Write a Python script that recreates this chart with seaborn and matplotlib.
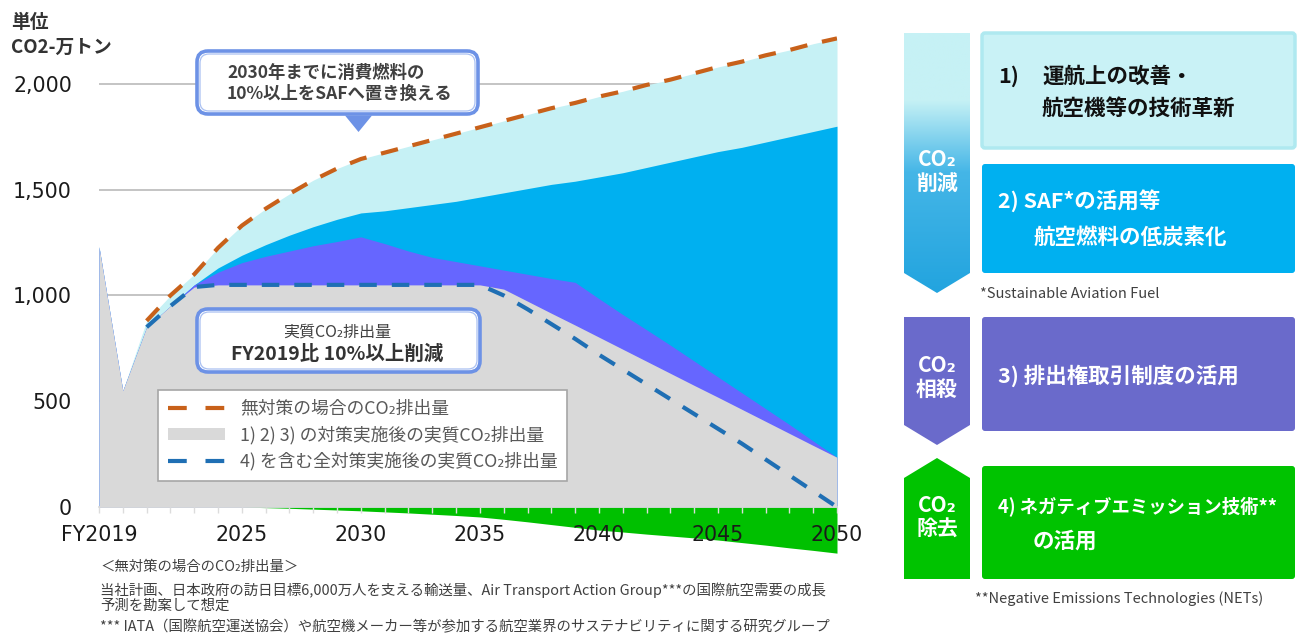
import numpy as np
import pandas as pd
import matplotlib
matplotlib.use("Agg")
import matplotlib.pyplot as plt
import seaborn as sns
from matplotlib.patches import FancyBboxPatch, Polygon, Patch
from matplotlib.lines import Line2D
from matplotlib.colors import to_rgb

# ---------------- data ----------------
years = list(range(2019, 2051))
no_action = [1230, 550, 880, 1000, 1100, 1225, 1330, 1410, 1480, 1545, 1600, 1645,
             1675, 1705, 1735, 1765, 1795, 1825, 1855, 1885, 1910, 1940,
             1965, 1995, 2020, 2050, 2080, 2105, 2135, 2160, 2190, 2215]
after_measure1 = [1230, 550, 850, 950, 1050, 1130, 1190, 1240, 1285, 1325, 1360, 1390,
                  1400, 1415, 1430, 1445, 1465, 1485, 1505, 1525, 1540, 1560,
                  1580, 1605, 1630, 1655, 1680, 1700, 1725, 1750, 1775, 1800]
after_measure2 = [1230, 550, 850, 950, 1050, 1110, 1155, 1185, 1210, 1235, 1255, 1277,
                  1245, 1210, 1180, 1160, 1140, 1120, 1100, 1080, 1062, 985,
                  910, 838, 765, 690, 615, 540, 465, 390, 312, 235]
after_measure3 = [1230, 550, 850, 950, 1040, 1050, 1050, 1050, 1050, 1050, 1050, 1050,
                  1050, 1050, 1050, 1050, 1050, 1030, 973, 916, 860, 803,
                  746, 689, 632, 575, 519, 462, 405, 348, 291, 235]
net_all = [np.nan, np.nan, 850, 950, 1040, 1050, 1050, 1050, 1050, 1050, 1050, 1050,
           1050, 1050, 1050, 1050, 1050, 1000, 935, 865, 795, 720,
           650, 580, 510, 440, 370, 300, 225, 150, 75, 0]
removal = [0, 0, 0, 0, 0, 0, 0, -3, -6, -10, -14, -18,
           -23, -28, -34, -40, -47, -58, -70, -83, -96, -109,
           -118, -128, -137, -146, -156, -168, -180, -193, -205, -218]
x_tick_years = [2019, 2025, 2030, 2035, 2040, 2045, 2050]
x_tick_labels = ["FY2019", "2025", "2030", "2035", "2040", "2045", "2050"]
y_ticks = [0, 500, 1000, 1500, 2000]
y_tick_labels = ["0", "500", "1,000", "1,500", "2,000"]
legend_labels = ["無対策の場合のCO₂排出量",
                 "1) 2) 3) の対策実施後の実質CO₂排出量",
                 "4) を含む全対策実施後の実質CO₂排出量"]

# colours
C_CYAN = "#c6f1f5"
C_BLUE = "#00b0f0"
C_PURPLE = "#6666ff"
C_GRAY = "#d9d9d9"
C_GREEN = "#00c000"
C_ORANGE = "#c8611a"
C_DBLUE = "#1f6fb4"
C_CALL = "#6d92e6"

sns.set_theme(style="white")
plt.rcParams["font.family"] = ["Noto Sans CJK JP", "DejaVu Sans"]

W, H = 1301, 634
fig = plt.figure(figsize=(W / 100, H / 100), dpi=100)
ax = fig.add_axes([99 / W, 1 - 556 / H, (837 - 99) / W, (556 - 31) / H])
ax.set_xlim(2019, 2050)
ax.set_ylim(-231.5, 2250)

# horizontal gridlines below the areas
for yv in y_ticks[1:]:
    ax.axhline(yv, color="#bfbfbf", lw=1.3, zorder=0.5)

# stacked areas painted as layers (no seams)
ax.fill_between(years, 0, no_action, color=C_CYAN, lw=0, zorder=1)
ax.fill_between(years, 0, after_measure1, color=C_BLUE, lw=0, zorder=1.1)
ax.fill_between(years, 0, after_measure2, color=C_PURPLE, lw=0, zorder=1.2)
ax.fill_between(years, 0, after_measure3, color=C_GRAY, lw=0, zorder=1.3)
ax.fill_between(years, removal, 0, color=C_GREEN, lw=0, zorder=1.4)

df_no = pd.DataFrame({"year": years[2:], "value": no_action[2:]})
df_net = pd.DataFrame({"year": years, "value": net_all}).dropna()
sns.lineplot(data=df_no, x="year", y="value", ax=ax, color=C_ORANGE, lw=3.0,
             linestyle=(0, (4.2, 3.6)), zorder=4)
sns.lineplot(data=df_net, x="year", y="value", ax=ax, color=C_DBLUE, lw=3.0,
             linestyle=(0, (4.2, 3.6)), zorder=4)
ax.set_xlabel("")
ax.set_ylabel("")

for s in ["top", "right", "left"]:
    ax.spines[s].set_visible(False)
ax.spines["bottom"].set_position(("data", 0))
ax.spines["bottom"].set_color("#d9d9d9")

ax.set_xticks(x_tick_years, x_tick_labels)
ax.set_xticks(years, minor=True)
ax.tick_params(axis="x", which="both", direction="out", length=4.5, width=1,
               color="#dcdcdc", pad=8.5, labelsize=14.8, labelcolor="#1a1a1a", bottom=True)
ax.set_yticks(y_ticks, y_tick_labels)
ax.tick_params(axis="y", length=0, pad=19.5, labelsize=14.8, labelcolor="#1a1a1a")
for lbl in ax.get_xticklabels() + ax.get_yticklabels():
    lbl.set_fontfamily("DejaVu Sans")
ax.grid(False)
ax.set_axisbelow(False)
ax.patch.set_alpha(0)

handles = [Line2D([], [], color=C_ORANGE, lw=3.0, linestyle=(0, (4.5, 4.5))),
           Patch(facecolor=C_GRAY, edgecolor="none"),
           Line2D([], [], color=C_DBLUE, lw=3.0, linestyle=(0, (4.5, 4.5)))]
leg = ax.legend(handles, legend_labels, loc="upper left",
                bbox_to_anchor=(158 / W, 1 - 390 / H), bbox_transform=fig.transFigure,
                frameon=True, fancybox=False, edgecolor="#a6a6a6", framealpha=1,
                fontsize=12.8, handlelength=3.2, handletextpad=0.85, borderpad=0.55,
                labelspacing=0.45, borderaxespad=0, labelcolor="#595959")
leg.get_frame().set_linewidth(1.2)
leg.set_zorder(6)

# ---------------- overlay (pixel coordinates) ----------------
ov = fig.add_axes([0, 0, 1, 1], zorder=5)
ov.set_xlim(0, W)
ov.set_ylim(H, 0)
ov.axis("off")
ov.patch.set_alpha(0)

TXT = "#404040"

# unit label
ov.text(11, 23, "単位", fontsize=13.5, fontweight="bold", color="#333333", va="center")
ov.text(11, 47, "CO2-万トン", fontsize=13.5, fontweight="bold", color="#333333", va="center")


def callout(x0, y0, x1, y1):
    ov.add_patch(FancyBboxPatch((x0, y0), x1 - x0, y1 - y0,
                                boxstyle="round,pad=0,rounding_size=11",
                                fc="white", ec=C_CALL, lw=2.6, zorder=3))
    ov.add_patch(FancyBboxPatch((x0 + 3, y0 + 3), x1 - x0 - 6, y1 - y0 - 6,
                                boxstyle="round,pad=0,rounding_size=9",
                                fc="none", ec="#a9c0f2", lw=0.9, zorder=3))


callout(197, 51, 478, 114)
ov.add_patch(Polygon([(345, 115.5), (372, 115.5), (358.5, 132)], closed=True,
                     fc=C_CALL, ec="none", zorder=3))
ov.text(227, 73, "2030年までに消費燃料の", fontsize=12.5, fontweight="bold",
        color=TXT, va="center", ha="left", zorder=4)
ov.text(227, 94, "10%以上をSAFへ置き換える", fontsize=12.5, fontweight="bold",
        color=TXT, va="center", ha="left", zorder=4)

callout(197, 309, 480, 372)
ov.text(337, 332, "実質CO₂排出量", fontsize=11.5, color=TXT, va="center", ha="center", zorder=4)
ov.text(337, 354, "FY2019比 10%以上削減", fontsize=14, fontweight="bold", color="#333333",
        va="center", ha="center", zorder=4)

# footnotes
FN = 10.4
ov.text(100, 567, "＜無対策の場合のCO₂排出量＞", fontsize=FN, color=TXT, va="center")
ov.text(100, 590, "当社計画、日本政府の訪日目標6,000万人を支える輸送量、Air Transport Action Group***の国際航空需要の成長",
        fontsize=FN, color=TXT, va="center")
ov.text(100, 606, "予測を勘案して想定", fontsize=FN, color=TXT, va="center")
ov.text(100, 627, "*** IATA（国際航空運送協会）や航空機メーカー等が参加する航空業界のサステナビリティに関する研究グループ",
        fontsize=FN, color=TXT, va="center")

# ---------------- right panel ----------------
AX0, AX1 = 904, 970
AXC = (AX0 + AX1) / 2

# arrow 1 with gradient
arrow1 = Polygon([(AX0, 33), (AX1, 33), (AX1, 273), (AXC, 293), (AX0, 273)],
                 closed=True, fc="none", ec="none")
ov.add_patch(arrow1)
ys = np.arange(33, 294)
c_top, c_mid, c_bot = np.array(to_rgb("#c6f1f5")), np.array(to_rgb("#45b6e7")), np.array(to_rgb("#22a4df"))
cols = []
for y in ys:
    if y < 100:
        c = c_top
    elif y < 172:
        t = (y - 100) / 72
        c = c_top * (1 - t) + c_mid * t
    else:
        t = (y - 172) / 121
        c = c_mid * (1 - t) + c_bot * t
    cols.append(c)
grad = np.array(cols)[:, None, :]
im = ov.imshow(grad, extent=(AX0, AX1, 293, 33), origin="upper", aspect="auto",
               interpolation="bilinear", zorder=2)
im.set_clip_path(arrow1)

ov.add_patch(Polygon([(AX0, 317), (AX1, 317), (AX1, 425), (AXC, 445), (AX0, 425)],
                     closed=True, fc="#6a6acb", ec="none", zorder=2))
ov.add_patch(Polygon([(AX0, 579), (AX1, 579), (AX1, 478), (AXC, 458), (AX0, 478)],
                     closed=True, fc="#00c300", ec="none", zorder=2))


def arrow_label(yc, word):
    ov.text(AXC, yc - 12, "CO₂", fontsize=15, fontweight="bold", color="white",
            ha="center", va="center", zorder=4)
    ov.text(AXC, yc + 12, word, fontsize=15, fontweight="bold", color="white",
            ha="center", va="center", zorder=4)


arrow_label(171, "削減")
arrow_label(377, "相殺")
arrow_label(517, "除去")


def box(y0, y1, fc, ec=None):
    ov.add_patch(FancyBboxPatch((982, y0), 1295 - 982, y1 - y0,
                                boxstyle="round,pad=0,rounding_size=3",
                                fc=fc, ec=ec if ec else "none", lw=2.5 if ec else 0, zorder=2))


box(33, 148, "#c9f2f6", "#afe9f0")
box(164, 273, "#00b0f0")
box(317, 431, "#6a6acb")
box(466, 579, "#00c300")

BF = 15.5
ov.text(998, 76, "1)", fontsize=BF, fontweight="bold", color="#111111", va="center", zorder=4)
ov.text(1042, 76, "運航上の改善・", fontsize=BF, fontweight="bold", color="#111111", va="center", zorder=4)
ov.text(1042, 108, "航空機等の技術革新", fontsize=BF, fontweight="bold", color="#111111", va="center", zorder=4)
ov.text(998, 201, "2) SAF*の活用等", fontsize=BF, fontweight="bold", color="white", va="center", zorder=4)
ov.text(1033, 237, "航空燃料の低炭素化", fontsize=BF, fontweight="bold", color="white", va="center", zorder=4)
ov.text(998, 376, "3) 排出権取引制度の活用", fontsize=BF, fontweight="bold", color="white", va="center", zorder=4)
ov.text(998, 506, "4) ネガティブエミッション技術**", fontsize=13.2, fontweight="bold", color="white", va="center", zorder=4)
ov.text(1033, 541, "の活用", fontsize=BF, fontweight="bold", color="white", va="center", zorder=4)

ov.text(980, 294, "*Sustainable Aviation Fuel", fontsize=10.5, color=TXT, va="center", zorder=4)
ov.text(975, 599, "**Negative Emissions Technologies (NETs)", fontsize=10.5, color=TXT, va="center", zorder=4)

ov.set_xlim(0, W)
ov.set_ylim(H, 0)

fig.savefig("out.png", dpi=100)
